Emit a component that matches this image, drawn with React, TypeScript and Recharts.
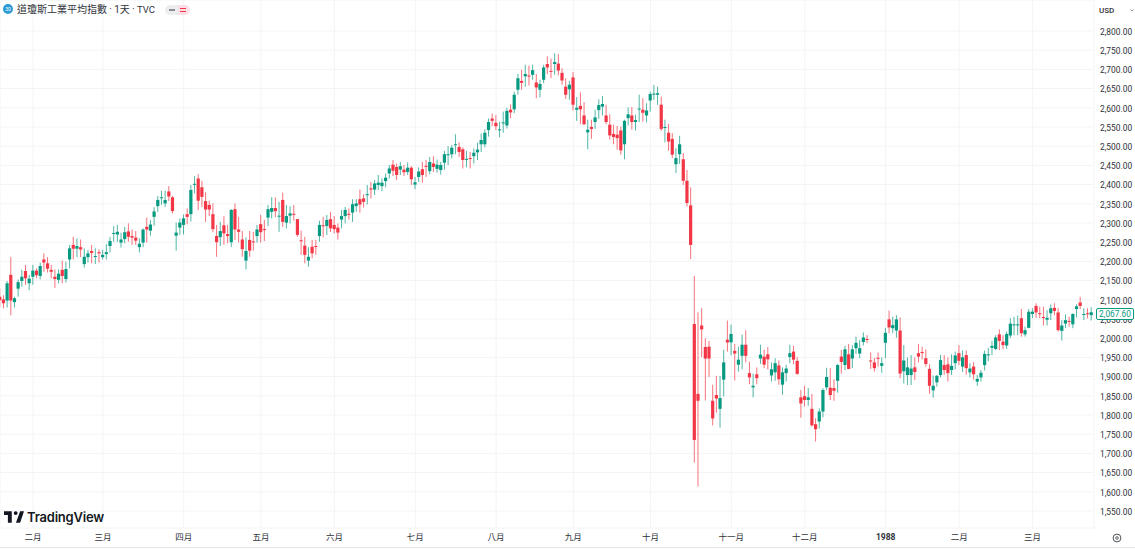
import React from "react";
import { BarChart, Bar, XAxis, YAxis, CartesianGrid } from "recharts";

const opens = [
  2108,2101,2098,2165,2094,2129,2149,2175,2143,2160,
  2176,2162,2205,2195,2178,2160,2152,2178,2154,2205,
  2243,2233,2237,2193,2211,2227,2213,2224,2211,2219,
  2240,2273,2270,2249,2258,2278,2266,2262,2237,2249,
  2290,2280,2316,2344,2366,2351,2382,2367,2267,2288,
  2295,2323,2323,2401,2416,2393,2357,2347,2323,2266,
  2263,2294,2271,2250,2336,2283,2257,2202,2256,2252,
  2266,2297,2284,2314,2329,2339,2318,2360,2301,2319,
  2324,2310,2255,2241,2202,2238,2240,2266,2294,2292,
  2310,2295,2288,2309,2318,2324,2327,2344,2362,2364,
  2374,2390,2387,2399,2396,2409,2429,2452,2446,2439,
  2439,2433,2444,2400,2420,2440,2449,2435,2455,2441,
  2438,2457,2478,2479,2504,2498,2492,2466,2469,2474,
  2484,2505,2505,2542,2572,2561,2543,2561,2554,2595,
  2596,2647,2670,2682,2684,2686,2666,2647,2673,2714,
  2696,2714,2715,2691,2655,2648,2679,2595,2605,2580,
  2536,2550,2563,2594,2603,2580,2556,2532,2530,2541,
  2505,2573,2580,2563,2597,2595,2580,2619,2636,2634,
  2608,2549,2535,2519,2453,2479,2466,2410,2346,2037,
  1855,2033,1977,1978,1837,1852,1816,1892,1996,1989,
  1967,1931,1954,1983,1909,1872,1906,1947,1952,1958,
  1903,1911,1929,1879,1909,1951,1965,1941,1846,1849,
  1839,1816,1776,1783,1809,1872,1871,1870,1889,1952,
  1930,1958,1947,1974,1960,1990,1998,1942,1937,1949,
  1928,1988,2049,2026,2020,2020,1914,1904,1904,1924,
  1961,1964,1948,1920,1864,1885,1904,1930,1932,1917,
  1935,1961,1926,1956,1911,1926,1887,1898,1930,1956,
  1975,1972,2010,1991,1981,2007,2035,2035,2052,2010,
  2027,2063,2084,2065,2055,2048,2065,2079,2067,2019,
  2038,2045,2036,2076,2093,2062,2065,2060,
];

const highs = [
  2130,2112,2149,2211,2108,2153,2178,2191,2165,2191,
  2182,2197,2221,2211,2191,2179,2179,2202,2199,2243,
  2264,2260,2257,2234,2230,2243,2234,2231,2230,2245,
  2264,2292,2295,2275,2290,2299,2283,2279,2260,2286,
  2314,2308,2341,2370,2384,2384,2396,2370,2301,2312,
  2322,2338,2399,2422,2427,2410,2380,2358,2351,2295,
  2303,2318,2295,2336,2351,2316,2279,2262,2279,2277,
  2295,2321,2308,2347,2367,2367,2355,2379,2347,2344,
  2347,2310,2280,2264,2237,2256,2256,2306,2316,2321,
  2329,2318,2299,2334,2342,2338,2362,2362,2387,2375,
  2399,2407,2412,2425,2416,2429,2451,2464,2455,2459,
  2451,2458,2448,2420,2445,2459,2464,2472,2474,2465,
  2459,2488,2500,2503,2531,2510,2497,2488,2485,2494,
  2509,2533,2544,2572,2585,2581,2564,2590,2600,2609,
  2642,2688,2699,2712,2710,2712,2688,2673,2712,2734,
  2728,2742,2740,2703,2677,2670,2693,2628,2640,2615,
  2569,2569,2595,2622,2631,2608,2583,2556,2553,2551,
  2569,2601,2602,2582,2634,2625,2612,2642,2660,2655,
  2629,2569,2558,2534,2495,2527,2482,2438,2393,2162,
  2067,2078,2000,1993,1879,1902,1902,1970,2046,2035,
  1985,1978,2009,2021,1939,1908,1924,1983,1970,1977,
  1937,1948,1942,1924,1931,1983,1980,1951,1865,1876,
  1870,1855,1792,1817,1870,1923,1922,1893,1933,1969,
  1980,1985,1982,2004,1995,2015,2008,1963,1949,1963,
  1950,2027,2072,2056,2060,2054,1982,1950,1956,1950,
  1985,1978,1971,1932,1903,1904,1956,1956,1950,1958,
  1965,1982,1968,1968,1935,1938,1904,1917,1968,1975,
  1993,2008,2023,2008,2017,2052,2056,2059,2076,2030,
  2076,2078,2091,2082,2082,2073,2088,2091,2078,2047,
  2062,2056,2065,2088,2108,2078,2078,2081,
];

const lows = [
  2082,2078,2080,2060,2080,2108,2134,2139,2125,2139,
  2156,2153,2173,2171,2156,2131,2143,2143,2145,2182,
  2205,2211,2211,2184,2197,2195,2193,2197,2205,2205,
  2223,2251,2251,2236,2247,2251,2243,2243,2223,2237,
  2249,2267,2293,2329,2347,2342,2357,2325,2228,2269,
  2270,2297,2304,2377,2334,2342,2303,2318,2276,2212,
  2240,2243,2247,2238,2256,2249,2212,2179,2212,2228,
  2249,2249,2253,2292,2312,2315,2277,2290,2286,2299,
  2306,2264,2217,2195,2186,2208,2217,2251,2263,2269,
  2277,2273,2257,2286,2299,2309,2303,2329,2327,2340,
  2348,2364,2373,2386,2383,2393,2416,2422,2412,2425,
  2422,2425,2399,2388,2407,2405,2420,2427,2433,2431,
  2426,2439,2451,2468,2479,2472,2442,2445,2442,2455,
  2464,2485,2497,2525,2552,2542,2523,2535,2546,2573,
  2586,2634,2647,2655,2658,2673,2625,2627,2664,2688,
  2677,2686,2684,2660,2623,2621,2593,2566,2557,2556,
  2492,2519,2545,2571,2580,2557,2517,2505,2491,2478,
  2466,2554,2543,2541,2563,2564,2562,2590,2621,2608,
  2540,2510,2488,2469,2430,2454,2399,2343,2206,1676,
  1614,1951,1838,1899,1773,1806,1767,1848,1965,1955,
  1890,1913,1919,1937,1880,1846,1880,1933,1922,1919,
  1887,1889,1879,1853,1887,1935,1933,1905,1793,1822,
  1824,1770,1731,1765,1794,1865,1839,1837,1858,1908,
  1917,1919,1922,1959,1948,1981,1987,1920,1913,1926,
  1910,1948,2013,2013,2001,1896,1882,1878,1878,1891,
  1937,1945,1926,1855,1845,1874,1898,1905,1887,1904,
  1919,1930,1912,1905,1898,1892,1876,1887,1916,1940,
  1956,1969,1969,1971,1972,2000,2008,2008,2004,2004,
  2026,2052,2053,2052,2033,2033,2047,2060,2017,1994,
  2026,2030,2026,2054,2076,2047,2052,2046,
];

const closes = [
  2099,2091,2143,2098,2104,2146,2160,2156,2155,2176,
  2164,2188,2197,2181,2173,2154,2168,2162,2180,2234,
  2233,2240,2231,2212,2221,2222,2214,2221,2217,2224,
  2253,2274,2277,2257,2276,2264,2262,2254,2246,2283,
  2283,2296,2330,2360,2367,2360,2369,2331,2275,2301,
  2312,2316,2386,2402,2358,2368,2335,2335,2284,2250,
  2279,2273,2266,2334,2283,2277,2232,2227,2228,2251,
  2283,2276,2283,2336,2339,2331,2319,2303,2318,2325,
  2323,2269,2254,2217,2212,2221,2239,2295,2293,2308,
  2286,2284,2275,2318,2334,2323,2349,2351,2348,2355,
  2375,2387,2403,2405,2405,2418,2442,2436,2425,2448,
  2432,2444,2414,2406,2434,2425,2448,2459,2446,2452,
  2451,2479,2479,2496,2505,2485,2464,2467,2468,2483,
  2491,2516,2535,2563,2566,2552,2544,2562,2592,2588,
  2634,2677,2665,2688,2683,2698,2653,2662,2705,2705,
  2695,2719,2697,2671,2634,2660,2608,2600,2596,2557,
  2543,2545,2575,2607,2610,2563,2528,2524,2521,2489,
  2566,2583,2563,2568,2598,2587,2593,2636,2637,2638,
  2545,2550,2512,2478,2469,2505,2410,2352,2243,1735,
  1837,2023,1947,1947,1791,1843,1844,1937,1989,2011,
  1960,1944,1983,1954,1898,1876,1896,1957,1931,1945,
  1919,1935,1893,1911,1921,1961,1944,1907,1830,1839,
  1846,1773,1763,1809,1865,1899,1852,1863,1930,1938,
  1971,1920,1971,1988,1974,2002,1997,1941,1922,1948,
  1935,2014,2028,2034,2049,1908,1942,1924,1921,1912,
  1952,1963,1933,1876,1876,1902,1943,1917,1909,1928,
  1955,1941,1950,1922,1921,1906,1894,1910,1959,1958,
  1980,2002,1993,1982,2011,2038,2036,2036,2013,2021,
  2069,2069,2067,2064,2054,2053,2078,2071,2021,2033,
  2047,2044,2063,2083,2084,2063,2064,2067.6,
];

// index of the first trading day of each month, and its label
const monthTicks = [9, 28, 50, 71, 91, 113, 135, 156, 177, 199, 219, 241, 261, 281];
const monthLabels = ["二月", "三月", "四月", "五月", "六月", "七月", "八月", "九月", "十月", "十一月", "十二月", "1988", "二月", "三月"];
const priceTicks = [
  1550, 1600, 1650, 1700, 1750, 1800, 1850, 1900, 1950, 2000, 2050, 2100, 2150,
  2200, 2250, 2300, 2350, 2400, 2450, 2500, 2550, 2600, 2650, 2700, 2750, 2800,
];

const candles = opens.map((open, i) => ({
  day: i,
  open,
  high: highs[i],
  low: lows[i],
  close: closes[i],
}));

const UP = "#089981";
const DOWN = "#f23645";
const GRID = "#f3f4f6";
const TEXT = "#2e3238";
const UI_FONT = "Roboto, 'Noto Sans CJK TC', sans-serif";

const formatPrice = (v: number) =>
  v.toLocaleString("en-US", { minimumFractionDigits: 2, maximumFractionDigits: 2 });

const Candle = (props: any) => {
  const { x, y, width, height, payload } = props;
  const { open, high, low, close } = payload;
  const h = Math.abs(height);
  const perUnit = h / (high - low);
  const color = close >= open ? UP : DOWN;
  const mid = x + width / 2;
  const bodyTop = y + (high - Math.max(open, close)) * perUnit;
  const bodyHeight = Math.max(Math.abs(open - close) * perUnit, 1);
  return (
    <g>
      <rect x={mid - 0.5} y={y} width={1} height={h} fill={color} fillOpacity={0.7} />
      <rect x={x} y={bodyTop} width={width} height={bodyHeight} fill={color} />
    </g>
  );
};

const MonthTick = (props: any) => {
  const { x, y, payload } = props;
  const label = monthLabels[monthTicks.indexOf(payload.value)];
  const isYear = label === "1988";
  return (
    <text x={x} y={y} textAnchor="middle" dominantBaseline="central" fontSize={8.5}
      fontWeight={isYear ? 700 : 400} fill={TEXT} fontFamily={UI_FONT}>
      {label}
    </text>
  );
};

const PriceTick = (props: any) => {
  const { x, y, payload } = props;
  return (
    <text x={x} y={y + 0.8} dominantBaseline="central" fontSize={8.4} fill={TEXT} fontFamily={UI_FONT}>
      {formatPrice(payload.value)}
    </text>
  );
};

const LastPriceTag = () => (
  <div style={{ position: "absolute", left: 1096, top: 308, width: 36, height: 9.5, border: `1px solid ${UP}`, borderRadius: 2,
    background: "#fff", color: UP, fontSize: 8.3, lineHeight: "10px", textAlign: "center", fontFamily: UI_FONT }}>
    {formatPrice(closes[closes.length - 1])}
  </div>
);

const Header = () => (
  <>
    <div style={{ position: "absolute", left: 3, top: 4, width: 10, height: 10, borderRadius: 5, background: "#2b9bd8",
      color: "#fff", fontSize: 5, lineHeight: "10px", textAlign: "center", fontFamily: UI_FONT }}>30</div>
    <div style={{ position: "absolute", left: 17, top: 2, lineHeight: "15px", fontSize: 10, color: "#30343b",
      fontFamily: UI_FONT, whiteSpace: "nowrap", wordSpacing: -0.2 }}>
      道瓊斯工業平均指數 · 1天 · <span style={{ fontSize: 9.5 }}>TVC</span>
    </div>
    <div style={{ position: "absolute", left: 165, top: 5, width: 13, height: 10, background: "#ecedef",
      borderRadius: "5px 0 0 5px" }}>
      <div style={{ position: "absolute", left: 4, top: 4, width: 6, height: 1.5, background: "#8a8e96" }} />
    </div>
    <div style={{ position: "absolute", left: 178, top: 5, width: 12, height: 10, background: "#fbdfe6",
      borderRadius: "0 5px 5px 0" }}>
      <div style={{ position: "absolute", left: 2, top: 3, width: 6, height: 1, background: DOWN }} />
      <div style={{ position: "absolute", left: 2, top: 6, width: 6, height: 1, background: DOWN }} />
    </div>
    <div style={{ position: "absolute", left: 1099, top: 4, lineHeight: "13px", fontSize: 8, fontWeight: 500,
      color: TEXT, fontFamily: UI_FONT }}>USD</div>
    <svg style={{ position: "absolute", left: 1130, top: 9 }} width={4} height={3} viewBox="0 0 4 3">
      <path d="M0.5 0.5 L2 2 L3.5 0.5" fill="none" stroke="#6a6d78" strokeWidth={0.7} />
    </svg>
  </>
);

const Logo = () => (
  <>
    <svg style={{ position: "absolute", left: 4, top: 511 }} width={20} height={12} viewBox="0 0 36 21">
      <path fill="#131722" d="M14 0H0v7h7v14h7V0Zm15 21h-7.5L29 0h7l-7 21ZM21 7a3.5 3.5 0 1 0 0-7 3.5 3.5 0 0 0 0 7Z" />
    </svg>
    <div style={{ position: "absolute", left: 27, top: 508, lineHeight: "18px", fontSize: 13, fontWeight: 600,
      color: "#131722", fontFamily: "Inter, sans-serif", letterSpacing: -0.2 }}>TradingView</div>
  </>
);

const App = () => (
  <div style={{ position: "absolute", left: 0, top: 0, width: 1135, height: 550, background: "#fff", overflow: "hidden" }}>
    <BarChart width={1135} height={547} data={candles} margin={{ top: 0, right: 0, bottom: 0, left: 0 }} barSize={3.2}>
      <CartesianGrid stroke={GRID} strokeWidth={1} />
      <XAxis dataKey="day" type="number" domain={[0, 297.7]} allowDataOverflow ticks={monthTicks} interval={0}
        height={19} axisLine={false} tickLine={false} tickSize={0} tickMargin={9} tick={<MonthTick />} />
      <YAxis orientation="right" width={41} domain={[1505.7, 2880.7]} allowDataOverflow ticks={priceTicks} interval={0}
        axisLine={false} tickLine={false} tickSize={0} tickMargin={6} tick={<PriceTick />} />
      <Bar dataKey={(d: any) => [d.low, d.high]} shape={<Candle />} isAnimationActive={false} />
    </BarChart>
    <div style={{ position: "absolute", left: 0, top: 547, width: 1135, height: 1, background: "#e4e6ea" }} />
    <svg style={{ position: "absolute", left: 1112, top: 533 }} width={10} height={10} viewBox="0 0 10 10">
      <circle cx={5} cy={5} r={3.9} fill="none" stroke="#3a3e46" strokeWidth={0.9} />
      <circle cx={5} cy={5} r={1.3} fill="none" stroke="#3a3e46" strokeWidth={0.8} />
    </svg>
    <LastPriceTag />
    <Header />
    <Logo />
  </div>
);

export default App;
